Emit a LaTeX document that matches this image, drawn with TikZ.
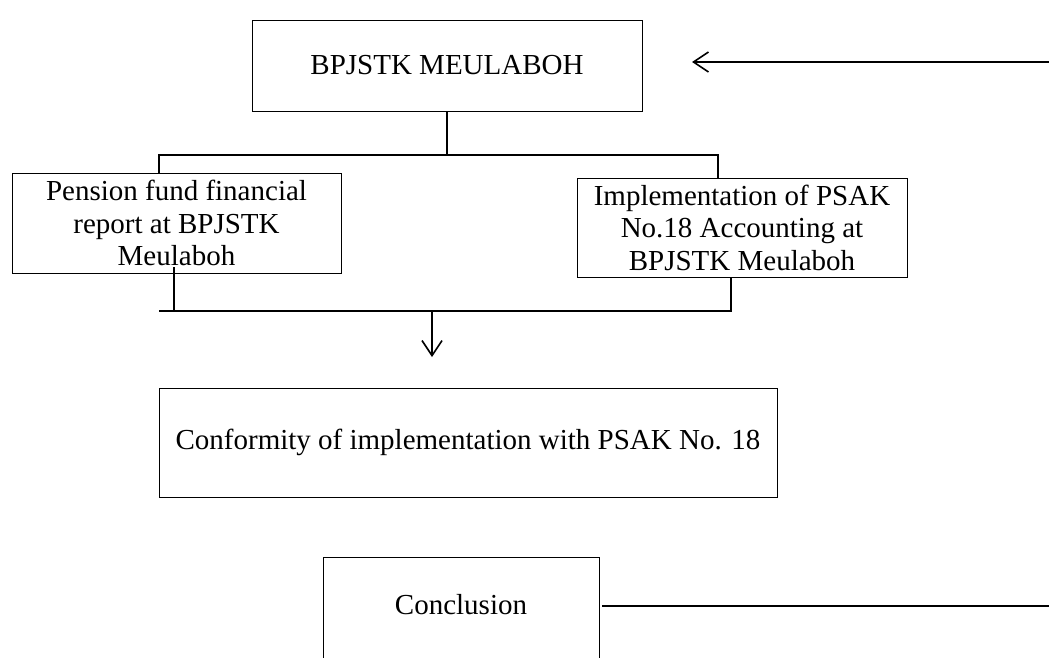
\documentclass[tikz,border=0pt]{standalone}
\usepackage{fontspec}
\setmainfont{Liberation Serif}
\usetikzlibrary{arrows.meta}
\tikzset{
  box/.style={draw, line width=1pt, inner sep=0pt, align=center, font=\fontsize{29}{32.5}\selectfont},
  plain/.style={inner sep=0pt, font=\fontsize{29}{32.5}\selectfont},
  conn/.style={line width=1.8pt},
  tip/.style={-{Straight Barb[length=15pt,width=20pt,line width=1.6pt]}}
}
\begin{document}
\begin{tikzpicture}[x=1pt,y=-1pt]
\useasboundingbox (0,0) rectangle (1049,657);
\clip (0,0) rectangle (1049,657);
% boxes
\node[box, minimum width=390, minimum height=91] (top) at (447,65.5) {BPJSTK MEULABOH};
\node[box, minimum width=329, minimum height=100] (left) at (176.5,223) {Pension fund financial\\report at BPJSTK\\Meulaboh};
\node[box, minimum width=330, minimum height=99] (right) at (742,227.5) {Implementation of PSAK\\No.18 Accounting at\\BPJSTK Meulaboh};
\node[box, minimum width=618, minimum height=109] (mid) at (468,442.5) {Conformity of implementation with PSAK No. 18};
\node[box, minimum width=276, minimum height=130, anchor=north] (concl) at (461,557) {};
\node[plain] (concltext) at (461,605) {Conclusion};
% junction coordinates
\coordinate (barTL) at (159,155);
\coordinate (barTR) at (718,155);
\coordinate (barBL) at (159,311);
\coordinate (barBR) at (731,311);
\coordinate (leftdrop) at (174,267);
\coordinate (arrowfoot) at (432,311);
\coordinate (arrowhead) at (432,357);
\coordinate (feedin) at (1049,62);
\coordinate (feedtip) at (692,62);
\coordinate (conclout) at (602,606);
\coordinate (conclend) at (1049,606);
% connectors
\draw[conn] (top.south) -- (top.south |- barTL);
\draw[conn] (barTL |- left.north) -- (barTL) -- (barTR) -- (barTR |- right.north);
\draw[conn] (leftdrop) -- (leftdrop |- barBL);
\draw[conn] (barBL) -- (barBR) -- (barBR |- right.south);
\draw[conn, tip] (arrowfoot) -- (arrowhead);
\draw[conn, tip] (feedin) -- (feedtip);
\draw[conn] (conclout) -- (conclend);
\end{tikzpicture}
\end{document}
